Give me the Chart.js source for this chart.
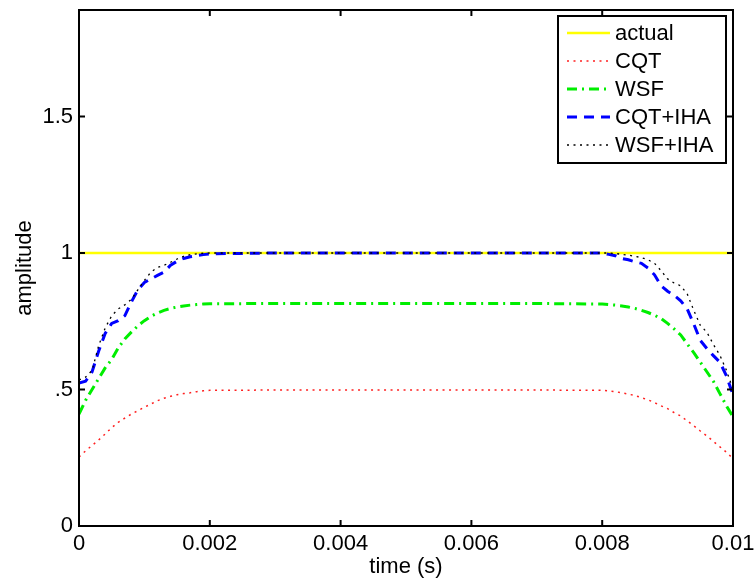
<!DOCTYPE html>
<html>
<head>
<meta charset="utf-8">
<script src="https://cdn.jsdelivr.net/npm/chart.js@4/dist/chart.umd.min.js"></script>
<style>
  html, body { margin: 0; padding: 0; background: #fff; }
  #wrap { width: 756px; height: 585px; }
</style>
</head>
<body>
<div id="wrap"><canvas id="mainChart" width="756" height="585"></canvas></div>
<script>
// sample times (s): dense on the two ramps, sparse on the flat middle
var timeS = [
  0, 0.0001, 0.0002, 0.0003, 0.0004, 0.0005, 0.0006, 0.0007, 0.0008, 0.0009, 0.001,
  0.0011, 0.0012, 0.0013, 0.0014, 0.0015, 0.0016, 0.0017, 0.0018, 0.0019, 0.002,
  0.003, 0.004, 0.005, 0.006, 0.007,
  0.008, 0.0081, 0.0082, 0.0083, 0.0084, 0.0085, 0.0086, 0.0087, 0.0088, 0.0089, 0.009,
  0.0091, 0.0092, 0.0093, 0.0094, 0.0095, 0.0096, 0.0097, 0.0098, 0.0099, 0.01
];
var actualTime = [0, 0.01];
var actualAmp  = [1, 1];
var cqtAmp = [
  0.253, 0.275, 0.295, 0.315, 0.337, 0.36, 0.38, 0.395, 0.41, 0.422, 0.435,
  0.447, 0.459, 0.468, 0.475, 0.481, 0.485, 0.488, 0.492, 0.495, 0.497,
  0.498, 0.498, 0.498, 0.498, 0.498,
  0.497, 0.495, 0.492, 0.488, 0.483, 0.478, 0.47, 0.462, 0.452, 0.44, 0.43,
  0.415, 0.403, 0.385, 0.367, 0.348, 0.33, 0.31, 0.29, 0.27, 0.247
];
var wsfAmp = [
  0.41, 0.46, 0.5, 0.54, 0.579, 0.61, 0.652, 0.685, 0.71, 0.733, 0.752,
  0.768, 0.78, 0.79, 0.797, 0.802, 0.806, 0.809, 0.811, 0.813, 0.814,
  0.815, 0.815, 0.815, 0.815, 0.815,
  0.813, 0.811, 0.809, 0.806, 0.802, 0.797, 0.79, 0.782, 0.772, 0.76, 0.742,
  0.722, 0.7, 0.667, 0.635, 0.6, 0.565, 0.53, 0.485, 0.44, 0.4
];
var cqtIhaAmp = [
  0.524, 0.53, 0.565, 0.64, 0.705, 0.742, 0.752, 0.77, 0.82, 0.865, 0.892,
  0.905, 0.918, 0.93, 0.955, 0.97, 0.98, 0.986, 0.99, 0.994, 0.997,
  1, 1, 1, 1, 1,
  1, 0.995, 0.99, 0.98, 0.975, 0.968, 0.962, 0.945, 0.92, 0.88, 0.86,
  0.845, 0.825, 0.795, 0.74, 0.68, 0.65, 0.624, 0.6, 0.55, 0.48
];
var wsfIhaAmp = [
  0.535, 0.545, 0.57, 0.66, 0.725, 0.77, 0.795, 0.81, 0.83, 0.865, 0.9,
  0.93, 0.947, 0.955, 0.966, 0.978, 0.988, 0.994, 0.997, 0.999, 1,
  1, 1, 1, 1, 1,
  1, 1, 0.998, 0.995, 0.992, 0.988, 0.983, 0.975, 0.962, 0.935, 0.905,
  0.89, 0.88, 0.85, 0.79, 0.735, 0.71, 0.665, 0.625, 0.57, 0.5
];
var xTickValues = [0, 0.002, 0.004, 0.006, 0.008, 0.01];
var xTickLabels = ['0', '0.002', '0.004', '0.006', '0.008', '0.01'];
var yTickValues = [0, 0.5, 1, 1.5];
var yTickLabels = ['0', '.5', '1', '1.5'];

var FONT = '"Liberation Sans", Arial, Helvetica, sans-serif';

function pts(xs, ys) {
  return xs.map(function (t, i) { return { x: t, y: ys[i] }; });
}

// MATLAB-ish axes box, inward ticks and the legend inside the plot
var matlabBox = {
  id: 'matlabBox',
  afterDatasetsDraw: function (chart) {
    var ctx = chart.ctx, a = chart.chartArea;
    var xs = chart.scales.x, ys = chart.scales.y;
    ctx.save();
    ctx.strokeStyle = '#000';
    ctx.lineWidth = 2;
    ctx.setLineDash([]);
    ctx.beginPath();
    xTickValues.forEach(function (v) {
      var px = xs.getPixelForValue(v);
      ctx.moveTo(px, a.bottom); ctx.lineTo(px, a.bottom - 6);
      ctx.moveTo(px, a.top); ctx.lineTo(px, a.top + 6);
    });
    yTickValues.forEach(function (v) {
      var py = ys.getPixelForValue(v);
      ctx.moveTo(a.left, py); ctx.lineTo(a.left + 6, py);
      ctx.moveTo(a.right, py); ctx.lineTo(a.right - 6, py);
    });
    ctx.stroke();
    ctx.strokeRect(a.left, a.top, a.right - a.left, a.bottom - a.top);

    // legend
    var bw = 168, bh = 147;
    var bx = a.right - 7 - bw, by = a.top + 6;
    ctx.fillStyle = '#fff';
    ctx.fillRect(bx, by, bw, bh);
    ctx.lineWidth = 2;
    ctx.strokeRect(bx, by, bw, bh);
    ctx.font = '22px ' + FONT;
    ctx.textBaseline = 'middle';
    ctx.textAlign = 'left';
    chart.data.datasets.forEach(function (ds, i) {
      var ry = by + 17 + i * 28;
      ctx.strokeStyle = ds.borderColor;
      ctx.lineWidth = ds.borderWidth;
      ctx.setLineDash(ds.borderDash || []);
      ctx.beginPath();
      ctx.moveTo(bx + 9, ry); ctx.lineTo(bx + 52, ry);
      ctx.stroke();
      ctx.setLineDash([]);
      ctx.fillStyle = '#000';
      ctx.fillText(ds.label, bx + 57, ry + 1);
    });
    ctx.restore();
  }
};

var ctx = document.getElementById('mainChart').getContext('2d');
window.mainChart = new Chart(ctx, {
  type: 'line',
  data: {
    datasets: [
      { label: 'actual', data: pts(actualTime, actualAmp), borderColor: '#ffff00', borderWidth: 2.5, order: 5 },
      { label: 'CQT', data: pts(timeS, cqtAmp), borderColor: '#ff2020', borderWidth: 1.5, borderDash: [2, 4.5], order: 4 },
      { label: 'WSF', data: pts(timeS, wsfAmp), borderColor: '#00ee00', borderWidth: 3, borderDash: [10, 5, 2, 5], order: 3 },
      { label: 'CQT+IHA', data: pts(timeS, cqtIhaAmp), borderColor: '#0000ff', borderWidth: 3, borderDash: [10, 7], order: 2 },
      { label: 'WSF+IHA', data: pts(timeS, wsfIhaAmp), borderColor: '#000000', borderWidth: 1.3, borderDash: [2, 4.5], order: 1 }
    ]
  },
  options: {
    responsive: false,
    animation: false,
    devicePixelRatio: 1,
    layout: { padding: { top: 10, right: 23, bottom: 0, left: 0 } },
    elements: { point: { radius: 0 }, line: { tension: 0, fill: false } },
    plugins: { legend: { display: false }, tooltip: { enabled: false } },
    scales: {
      x: {
        type: 'linear', min: 0, max: 0.01,
        afterBuildTicks: function (s) { s.ticks = xTickValues.map(function (v) { return { value: v }; }); },
        afterFit: function (s) { s.height = 59; s.paddingLeft = 0; s.paddingRight = 0; },
        ticks: {
          color: '#000', padding: 5, maxRotation: 0, autoSkip: false,
          font: { family: FONT, size: 22 },
          callback: function (v, i) { return xTickLabels[i]; }
        },
        grid: { display: false, drawTicks: false },
        border: { display: false },
        title: { display: true, text: 'time (s)', color: '#000', font: { family: FONT, size: 22 }, padding: { top: 0, bottom: 5 } }
      },
      y: {
        type: 'linear', min: 0, max: 1.89,
        afterBuildTicks: function (s) { s.ticks = yTickValues.map(function (v) { return { value: v }; }); },
        afterFit: function (s) { s.width = 79; s.paddingTop = 0; s.paddingBottom = 0; },
        ticks: {
          color: '#000', padding: 6, autoSkip: false,
          font: { family: FONT, size: 22 },
          callback: function (v, i) { return yTickLabels[i]; }
        },
        grid: { display: false, drawTicks: false },
        border: { display: false },
        title: { display: true, text: 'amplitude', color: '#000', font: { family: FONT, size: 22 }, padding: { top: 12, bottom: 0 } }
      }
    }
  },
  plugins: [matlabBox]
});
</script>
</body>
</html>
